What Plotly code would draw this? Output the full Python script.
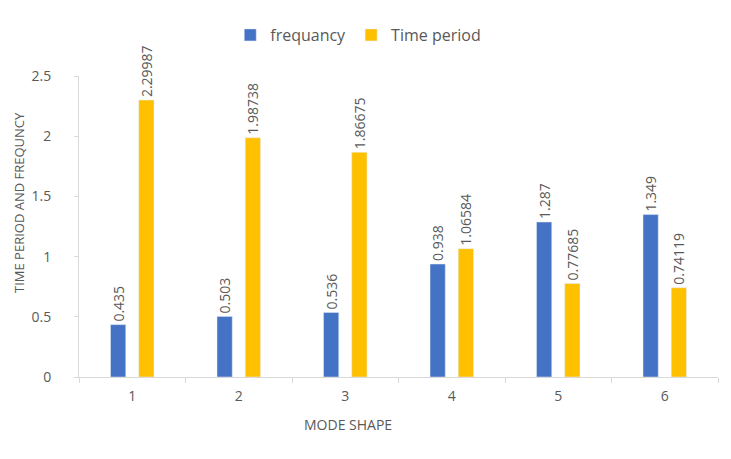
import plotly.graph_objects as go

modes = ["1", "2", "3", "4", "5", "6"]
frequancy = [0.435, 0.503, 0.536, 0.938, 1.287, 1.349]
time_period = [2.29987, 1.98738, 1.86675, 1.06584, 0.77685, 0.74119]
freq_labels = ["0.435", "0.503", "0.536", "0.938", "1.287", "1.349"]
tp_labels = ["2.29987", "1.98738", "1.86675", "1.06584", "0.77685", "0.74119"]
y_ticks = [0, 0.5, 1, 1.5, 2, 2.5]
y_tick_text = ["0", "0.5", "1", "1.5", "2", "2.5"]

FONT = "Open Sans"
GREY = "#595959"

# page body has an 8px offset; compensate in margins
L, T = 71, 68
PW = 639
PH = 301

fig = go.Figure()
fig.add_trace(go.Bar(
    x=modes, y=frequancy, name="frequancy", marker_color="#4472C4",
    text=freq_labels, textposition="outside", textangle=-90,
    textfont=dict(family=FONT, size=14, color=GREY),
    cliponaxis=False, constraintext="none",
))
fig.add_trace(go.Bar(
    x=modes, y=time_period, name="Time period", marker_color="#FFC000",
    text=tp_labels, textposition="outside", textangle=-90,
    textfont=dict(family=FONT, size=14, color=GREY),
    cliponaxis=False, constraintext="none",
))

fig.update_layout(
    width=731, height=459,
    margin=dict(l=L, r=731 - L - PW, t=T, b=459 - T - PH, autoexpand=False),
    paper_bgcolor="white", plot_bgcolor="white",
    barmode="group", bargap=0.47, bargroupgap=0.46,
    font=dict(family=FONT, size=13, color=GREY),
    legend=dict(orientation="h", x=0.437, xanchor="center",
                yref="container", y=1 - 27 / 459, yanchor="middle",
                font=dict(family=FONT, size=16, color=GREY),
                itemwidth=30, traceorder="normal"),
    xaxis=dict(
        automargin=False,
        showline=True, linecolor="#D9D9D9", linewidth=1,
        ticks="outside", tickson="boundaries", ticklen=5, tickcolor="#D9D9D9",
        showgrid=False, ticklabelstandoff=6,
        tickfont=dict(family=FONT, size=14, color=GREY),
    ),
    yaxis=dict(
        automargin=False,
        range=[0, 2.5], tickvals=y_ticks, ticktext=y_tick_text,
        showline=True, linecolor="#D9D9D9", linewidth=1,
        ticks="outside", ticklen=4, tickcolor="#D9D9D9",
        showgrid=False, zeroline=False, ticklabelstandoff=20,
        tickfont=dict(family=FONT, size=14, color=GREY),
    ),
    annotations=[
        dict(text="MODE SHAPE", xref="paper", yref="paper",
             x=(348 - 79) / PW, y=-(424 - 377) / PH, xanchor="center", yanchor="middle",
             showarrow=False, font=dict(family=FONT, size=14, color=GREY)),
        dict(text="TIME PERIOD AND FREQUNCY", xref="paper", yref="paper",
             x=-(79 - 19) / PW, y=(377 - 203) / PH, xanchor="center", yanchor="middle",
             textangle=-90, showarrow=False, font=dict(family=FONT, size=13, color=GREY)),
    ],
)

fig.write_html("out.html")
